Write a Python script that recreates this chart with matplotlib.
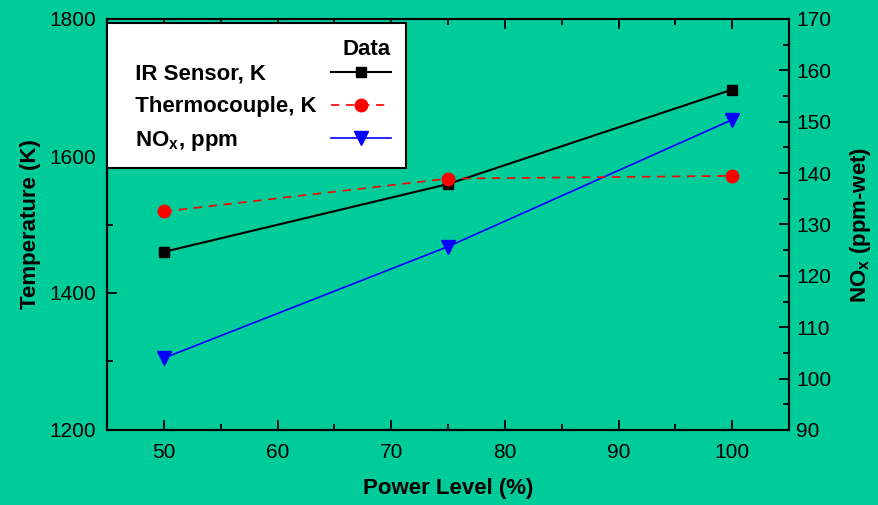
import matplotlib
matplotlib.use('Agg')
import matplotlib.pyplot as plt
from matplotlib.ticker import MultipleLocator

plt.rcParams['font.family'] = ['Liberation Sans', 'DejaVu Sans']
plt.rcParams['mathtext.fontset'] = 'custom'
plt.rcParams['mathtext.rm'] = 'Liberation Sans:bold'
plt.rcParams['mathtext.default'] = 'rm'

# Datos
power = [50, 75, 100]
ir_sensor = [1460, 1559, 1697]
thermocouple = [1519, 1567, 1571]
nox = [104, 125.7, 150.4]

bg = '#00CC99'

fig = plt.figure(figsize=(8.79, 5.05), dpi=100, facecolor=bg)
ax = fig.add_axes([107/879, 1 - 430/505, (789-107)/879, (430-19)/505])
ax.set_facecolor(bg)
ax2 = ax.twinx()

l1, = ax.plot(power, ir_sensor, color='black', marker='s', ms=7.5, lw=1.5,
              label='  IR Sensor, K')
l2, = ax.plot(power, thermocouple, color='red', marker='o', ms=9, lw=1.2,
              ls=(0, (5, 4)), label='  Thermocouple, K')
l3, = ax2.plot(power, nox, color='blue', marker='v', ms=10, lw=1.2,
               label=r'  NO$_\mathregular{x}$, ppm')

ax.set_xlim(45, 105)
ax.set_ylim(1200, 1800)
ax2.set_ylim(90, 170)
ax.set_xticks([50, 60, 70, 80, 90, 100])
ax.xaxis.set_minor_locator(MultipleLocator(5))
ax.set_yticks([1200, 1400, 1600, 1800])
ax.yaxis.set_minor_locator(MultipleLocator(100))
ax2.set_yticks(range(90, 171, 10))
ax2.yaxis.set_minor_locator(MultipleLocator(5))

ax.tick_params(which='both', direction='in', top=True, labelsize=15, width=1.3)
ax.tick_params(which='major', length=7)
ax.tick_params(which='minor', length=4)
ax.tick_params(axis='y', which='both', pad=8)
ax.tick_params(axis='x', which='both', pad=9)
ax2.tick_params(which='both', direction='in', labelsize=15, width=1.3, pad=5)
ax2.tick_params(which='major', length=7)
ax2.tick_params(which='minor', length=4)
for a in (ax, ax2):
    for s in a.spines.values():
        s.set_linewidth(1.5)

ax.set_xlabel('Power Level (%)', fontsize=16, fontweight='bold', labelpad=12)
ax.set_ylabel('Temperature (K)', fontsize=16, fontweight='bold', labelpad=6)
ax2.set_ylabel(r'NO$_\mathregular{x}$ (ppm-wet)', fontsize=16, fontweight='bold', labelpad=12)

leg = ax.legend(handles=[l1, l2, l3], loc='upper left', bbox_to_anchor=(0, 0.99),
                borderaxespad=0, markerfirst=False, title='Data', alignment='right',
                fancybox=False, framealpha=1, edgecolor='black', handlelength=2.7,
                prop={'weight': 'bold', 'size': 16}, title_fontproperties={'weight': 'bold', 'size': 16},
                borderpad=0.7, labelspacing=0.52, handletextpad=0.5)
# texto alineado a la izquierda, simbolos a la derecha
for col in leg._legend_handle_box.get_children():
    for row in col.get_children():
        row.mode = 'expand'
        row.width = 268
leg._legend_box.sep = 3
leg.get_frame().set_linewidth(1.5)
leg.set_zorder(10)
ax.set_zorder(ax2.get_zorder() + 1)
ax.patch.set_visible(False)
ax2.patch.set_visible(True)
ax2.patch.set_facecolor(bg)

fig.savefig('out.png', dpi=100, facecolor=bg)
